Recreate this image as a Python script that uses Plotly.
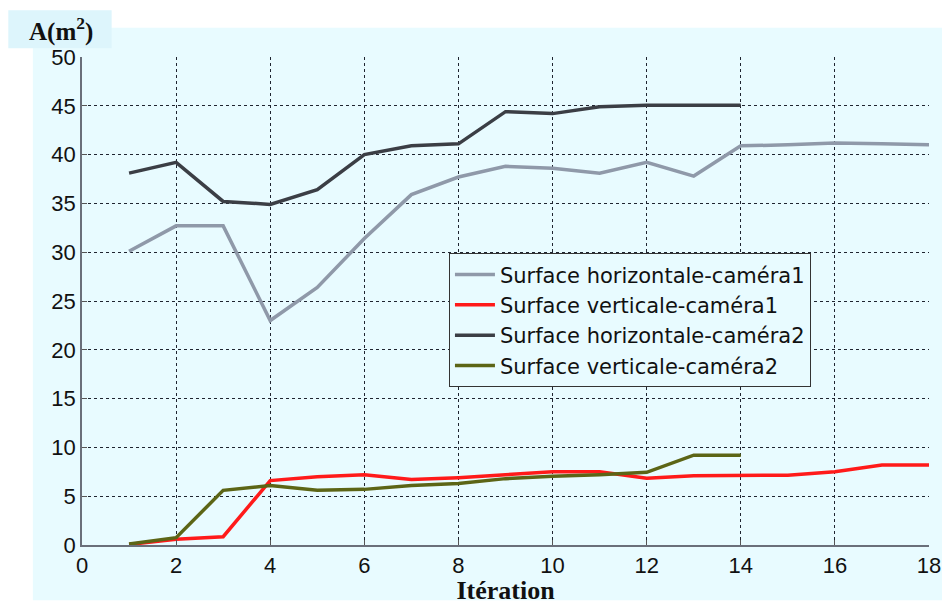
import plotly.graph_objects as go

iter_cam1 = list(range(1, 19))
iter_cam2 = list(range(1, 15))

horiz_cam1 = [30.1, 32.7, 32.7, 23.0, 26.4, 31.4, 35.9, 37.7, 38.8, 38.6, 38.1, 39.2, 37.8, 40.9, 41.0, 41.2, 41.1, 41.0]
vert_cam1 = [0.05, 0.6, 0.85, 6.6, 7.0, 7.2, 6.7, 6.9, 7.2, 7.5, 7.5, 6.85, 7.1, 7.15, 7.15, 7.5, 8.2, 8.2]
horiz_cam2 = [38.1, 39.2, 35.2, 34.9, 36.4, 40.0, 40.9, 41.1, 44.4, 44.2, 44.9, 45.05, 45.05, 45.05]
vert_cam2 = [0.1, 0.75, 5.6, 6.1, 5.6, 5.7, 6.1, 6.3, 6.8, 7.05, 7.2, 7.45, 9.2, 9.2]

names = ["Surface horizontale-caméra1", "Surface verticale-caméra1",
         "Surface horizontale-caméra2", "Surface verticale-caméra2"]
colors = ["#8F99A9", "#FF1A1A", "#3B3E45", "#5C6516"]

x_ticks = list(range(0, 19, 2))
y_ticks = list(range(0, 51, 5))

BG = "#E8FBFF"

fig = go.Figure()
for xs, ys, nm, c in [(iter_cam1, horiz_cam1, names[0], colors[0]),
                      (iter_cam1, vert_cam1, names[1], colors[1]),
                      (iter_cam2, horiz_cam2, names[2], colors[2]),
                      (iter_cam2, vert_cam2, names[3], colors[3])]:
    fig.add_trace(go.Scatter(x=xs, y=ys, mode="lines", name=nm,
                             line=dict(color=c, width=3.5)))

grid = dict(showgrid=True, gridcolor="#1F2430", griddash="dot", gridwidth=1.4)
fig.update_xaxes(range=[0, 18], tickvals=x_ticks, ticks="inside", ticklen=5,
                 tickcolor="#555", showline=True, linecolor="#6A6F7A", linewidth=1.5,
                 zeroline=False, automargin=False,
                 tickfont=dict(family="Liberation Sans", size=22, color="#111"),
                 title=dict(text="<b>Itération</b>", standoff=2,
                            font=dict(family="Liberation Serif", size=26, color="#111")),
                 **grid)
fig.update_yaxes(range=[0, 50], tickvals=y_ticks, ticks="inside", ticklen=5,
                 tickcolor="#555", showline=True, linecolor="#6A6F7A", linewidth=1.5,
                 zeroline=False, automargin=False,
                 tickfont=dict(family="Liberation Sans", size=22, color="#111"),
                 **grid)

fig.update_layout(
    width=942, height=605,
    margin=dict(l=82, r=13, t=57, b=60),
    paper_bgcolor="white", plot_bgcolor=BG,
    showlegend=True,
    legend=dict(x=0.433, y=0.598, xanchor="left", yanchor="top",
                bgcolor=BG, bordercolor="#333", borderwidth=1.2,
                font=dict(family="DejaVu Sans", size=21, color="#111"),
                tracegroupgap=0, itemwidth=40),
    shapes=[
        dict(type="rect", xref="paper", yref="paper", x0=-0.058, x1=1.016,
             y0=-0.113, y1=1.06, fillcolor=BG, line=dict(width=0), layer="below"),
        dict(type="rect", xref="paper", yref="paper", x0=-0.087, x1=0.035,
             y0=1.018, y1=1.096, fillcolor="#DDF5FC", line=dict(width=0), layer="below"),
    ],
    annotations=[
        dict(text="<b>A(m<sup>2</sup>)</b>", xref="paper", yref="paper",
             x=-0.025, y=1.057, xanchor="center", yanchor="middle", showarrow=False,
             font=dict(family="Liberation Serif", size=25, color="#111")),
    ],
)

fig.write_html("out.html")
